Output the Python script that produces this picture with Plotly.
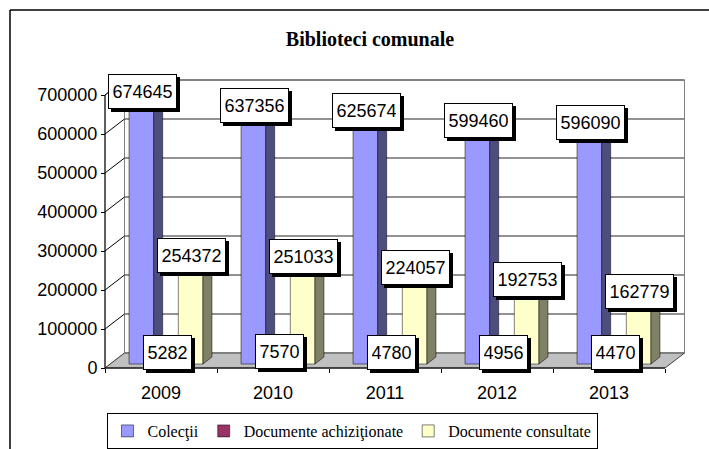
import plotly.graph_objects as go

# ---------------- data ----------------
years = ["2009", "2010", "2011", "2012", "2013"]
colectii = [674645, 637356, 625674, 599460, 596090]
achizitionate = [5282, 7570, 4780, 4956, 4470]
consultate = [254372, 251033, 224057, 192753, 162779]
series_names = ["Colecţii", "Documente achiziţionate", "Documente consultate"]
y_ticks = [0, 100000, 200000, 300000, 400000, 500000, 600000, 700000]
title_text = "Biblioteci comunale"

# ---------------- styles / geometry (pixels) ----------------
W, H = 709, 449
AX_X, AX_Y = 105, 368            # front value axis x, front zero line y
CAT_PX = 112                     # pixels per category
VAL_PX = 39 / 100000             # pixels per value unit
DEPTH_DX, DEPTH_DY = 19.5, 15    # floor depth offset
BAR_DX, BAR_DY = 5, 4            # bar front-face offset from front plane
SIDE_DX, SIDE_DY = 9, 7          # bar depth
BARGAP = 0.34
YMAX = y_ticks[-1]

front_cols = ["#9999FF", "#993366", "#FFFFCC"]
side_cols = ["#4D4D80", "#4D1A33", "#808066"]
top_cols = ["#7A7ACC", "#7A2952", "#CCCCA3"]

ARIAL = "Liberation Sans, Arial, sans-serif"
TIMES = "Liberation Serif, Times New Roman, serif"

# axis ranges derived from pixel geometry
c0 = AX_X + CAT_PX / 2
xr = [(0 - c0) / CAT_PX, (W - c0) / CAT_PX]
yr = [-(H - AX_Y) / VAL_PX, AX_Y / VAL_PX]
xr2 = [(0 - c0 - BAR_DX) / CAT_PX, (W - c0 - BAR_DX) / CAT_PX]
yr2 = [-(H - AX_Y + BAR_DY) / VAL_PX, (AX_Y - BAR_DY) / VAL_PX]

dxu, dyu = DEPTH_DX / CAT_PX, DEPTH_DY / VAL_PX
sdx, sdy = SIDE_DX / CAT_PX, SIDE_DY / VAL_PX
n = len(years)
left, right = -0.5, n - 0.5

fig = go.Figure()

# dummy trace so main (front) axes exist
fig.add_trace(go.Scatter(x=years, y=[None] * n, xaxis="x", yaxis="y",
                         showlegend=False, hoverinfo="skip", mode="markers"))

series = [colectii, achizitionate, consultate]
wb = (1 - BARGAP) / len(series)
offsets = [-(1 - BARGAP) / 2 + i * wb for i in range(len(series))]

for i, vals in enumerate(series):
    fig.add_trace(go.Bar(
        x=years, y=vals, name=series_names[i], xaxis="x2", yaxis="y2",
        offset=offsets[i], width=wb,
        marker=dict(color=front_cols[i], line=dict(color="black", width=0.5)),
    ))

shapes = []
def path(pts):
    return "M " + " L ".join(f"{x},{y}" for x, y in pts) + " Z"

# back wall
shapes.append(dict(type="path", xref="x", yref="y", layer="below",
                   path=path([(left + dxu, dyu), (right + dxu, dyu),
                              (right + dxu, YMAX + dyu), (left + dxu, YMAX + dyu)]),
                   fillcolor="white", line=dict(color="#808080", width=1)))
# side wall
shapes.append(dict(type="path", xref="x", yref="y", layer="below",
                   path=path([(left, 0), (left + dxu, dyu),
                              (left + dxu, YMAX + dyu), (left, YMAX)]),
                   fillcolor="white", line=dict(color="#808080", width=1)))
# gridlines
for v in y_ticks[1:]:
    shapes.append(dict(type="line", xref="x", yref="y", layer="below",
                       x0=left + dxu, y0=v + dyu, x1=right + dxu, y1=v + dyu,
                       line=dict(color="#6E6E6E", width=1.5)))
    shapes.append(dict(type="line", xref="x", yref="y", layer="below",
                       x0=left, y0=v, x1=left + dxu, y1=v + dyu,
                       line=dict(color="black", width=1)))
# floor
shapes.append(dict(type="path", xref="x", yref="y", layer="below",
                   path=path([(left, 0), (right, 0), (right + dxu, dyu), (left + dxu, dyu)]),
                   fillcolor="#C0C0C0", line=dict(color="#404040", width=1)))
# front axes lines
shapes.append(dict(type="line", xref="x", yref="y", layer="below",
                   x0=left, y0=0, x1=left, y1=YMAX, line=dict(color="black", width=1)))
shapes.append(dict(type="line", xref="x", yref="y", layer="below",
                   x0=left, y0=0, x1=right, y1=0, line=dict(color="black", width=1)))

# bar side and top faces
for i, vals in enumerate(series):
    for k, v in enumerate(vals):
        xl = k + offsets[i]
        xrr = xl + wb
        shapes.append(dict(type="path", xref="x2", yref="y2", layer="above",
                           path=path([(xrr, 0), (xrr + sdx, sdy), (xrr + sdx, v + sdy), (xrr, v)]),
                           fillcolor=side_cols[i], line=dict(color="black", width=0.5)))
        shapes.append(dict(type="path", xref="x2", yref="y2", layer="above",
                           path=path([(xl, v), (xrr, v), (xrr + sdx, v + sdy), (xl + sdx, v + sdy)]),
                           fillcolor=top_cols[i], line=dict(color="black", width=0.5)))

# outer frame
shapes.append(dict(type="line", xref="paper", yref="paper", x0=10 / W, y0=-0.01,
                   x1=10 / W, y1=1 - 10 / H, line=dict(color="black", width=1.5)))
shapes.append(dict(type="line", xref="paper", yref="paper", x0=10 / W, y0=1 - 10 / H,
                   x1=1.01, y1=1 - 10 / H, line=dict(color="black", width=1.5)))

# data labels with shadow
annotations = []
for i, vals in enumerate(series):
    for k, v in enumerate(vals):
        xc = k + offsets[i] + wb / 2
        txt = str(v)
        common = dict(xref="x2", yref="y2", x=xc, y=v, showarrow=False,
                      borderpad=4, borderwidth=1, xanchor="center", yanchor="middle",
                      width=10 * len(txt) - 1, height=25)
        annotations.append(dict(common, text="&nbsp;", xshift=4, yshift=9.5 - 3,
                                font=dict(family=ARIAL, size=18, color="black"),
                                bgcolor="black", bordercolor="black"))
        annotations.append(dict(common, text=txt, xshift=1, yshift=9.5,
                                font=dict(family=ARIAL, size=18, color="black"),
                                bgcolor="white", bordercolor="black"))

fig.update_layout(
    width=W, height=H, autosize=False,
    margin=dict(l=0, r=0, t=0, b=0),
    paper_bgcolor="white", plot_bgcolor="rgba(0,0,0,0)",
    barmode="overlay",
    title=dict(text=f"<b>{title_text}</b>", x=370 / W, xanchor="center",
               y=1 - 39 / H, yanchor="middle", yref="paper",
               font=dict(family=TIMES, size=20, color="black")),
    xaxis=dict(type="category", categoryorder="array", categoryarray=years,
               range=xr, domain=[0, 1], anchor="free", position=(H - AX_Y) / H,
               tickson="boundaries", ticks="outside", ticklen=4, tickwidth=1,
               tickcolor="black", showgrid=False, zeroline=False, showline=False,
               ticklabelstandoff=12,
               tickfont=dict(family=ARIAL, size=18, color="black")),
    yaxis=dict(range=yr, domain=[0, 1], anchor="free", position=AX_X / W,
               tickvals=y_ticks, ticktext=[str(t) for t in y_ticks],
               ticks="outside", ticklen=4, tickwidth=1, tickcolor="black",
               showgrid=False, zeroline=False, showline=False,
               tickfont=dict(family=ARIAL, size=18, color="black")),
    xaxis2=dict(type="category", categoryorder="array", categoryarray=years,
                range=xr2, overlaying="x", anchor="y2", visible=False),
    yaxis2=dict(range=yr2, overlaying="y", anchor="x2", visible=False),
    legend=dict(orientation="h", x=352 / W, xanchor="center",
                y=(H - 413) / H, yanchor="top", bgcolor="white",
                bordercolor="black", borderwidth=1, itemwidth=30,
                font=dict(family=TIMES, size=16, color="black"),
                traceorder="normal"),
    shapes=shapes, annotations=annotations,
)

fig.write_html("out.html", config={"displayModeBar": False},
               post_script="document.body.style.margin='0';")
